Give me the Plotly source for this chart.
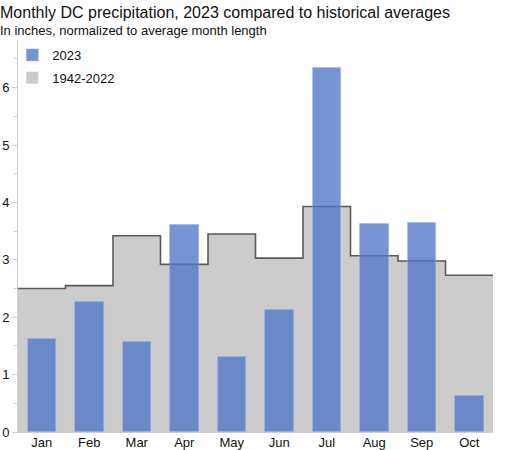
import plotly.graph_objects as go

#%% datos
meses = ['Jan', 'Feb', 'Mar', 'Apr', 'May', 'Jun', 'Jul', 'Aug', 'Sep', 'Oct']
lluvia_2023 = [1.62, 2.26, 1.57, 3.60, 1.31, 2.13, 6.34, 3.63, 3.65, 0.63]
promedio_hist = [2.50, 2.55, 3.42, 2.92, 3.45, 3.03, 3.93, 3.07, 2.98, 2.73]

pos = list(range(len(meses)))
# bordes de cada mes para la linea escalonada
bordes = [p - 0.5 for p in pos] + [pos[-1] + 0.5]
escalon = promedio_hist + [promedio_hist[-1]]

y_max = 6.83
alto_plot = 450 - 40 - 18
ancho_plot = 512 - 16 - 19
fuente = 'Liberation Sans, Arial, sans-serif'

#%% figura
fig = go.Figure()
fig.add_trace(go.Bar(
    x=pos, y=promedio_hist, width=1, name='1942-2022',
    marker=dict(color='#cccccc', line=dict(width=0)),
    legendrank=2, legendgroup='hist'
))
fig.add_trace(go.Scatter(
    x=bordes, y=escalon, mode='lines', line_shape='hv',
    line=dict(color='#5a5a5a', width=1.6), showlegend=False, hoverinfo='skip'
))
fig.add_trace(go.Bar(
    x=pos, y=lluvia_2023, width=0.6, name='2023',
    marker=dict(color='rgba(80,118,200,0.78)', line=dict(color='rgba(150,175,230,0.6)', width=0.8)),
    xaxis='x2', yaxis='y2', legendrank=1, legendgroup='2023'
))

fig.update_layout(
    width=512, height=450,
    font_family=fuente, font_color='#111111', font_size=13,
    plot_bgcolor='white', paper_bgcolor='white',
    margin=dict(l=16, r=19, t=40, b=18),
    barmode='overlay', bargap=0,
    showlegend=True,
    legend=dict(x=-0.012, y=1.0, xanchor='left', yanchor='top',
                bgcolor='rgba(0,0,0,0)', font_size=13,
                tracegroupgap=3, itemwidth=30),
    title=dict(text='Monthly DC precipitation, 2023 compared to historical averages',
               x=0.0, xanchor='left', y=1 - 12 / 450, yanchor='middle',
               font=dict(size=16, color='#111111')),
    annotations=[dict(text='In inches, normalized to average month length',
                      xref='paper', yref='paper', x=-20 / ancho_plot, y=1.0 + 9 / alto_plot,
                      xanchor='left', yanchor='middle', showarrow=False,
                      font=dict(size=13, color='#111111'))],
    xaxis=dict(range=[-0.5, len(meses) - 0.5], tickvals=pos, ticktext=meses,
               showgrid=False, zeroline=False, showline=True, linecolor='#cfcfcf',
               ticks='', automargin=False, fixedrange=True, ticklabelstandoff=-2),
    yaxis=dict(range=[0, y_max], dtick=1, showgrid=False, zeroline=False,
               showline=True, linecolor='#cfcfcf', ticks='outside', ticklen=5,
               tickcolor='#cfcfcf', automargin=False,
               minor=dict(dtick=0.5, ticks='outside', ticklen=3, tickcolor='#cfcfcf')),
    xaxis2=dict(range=[-0.5, len(meses) - 0.5], overlaying='x', visible=False),
    yaxis2=dict(range=[0, y_max], overlaying='y', visible=False),
)

# quitar el margen del body para que la figura quede en (0,0)
fig.write_html('out.html', config={'displayModeBar': False},
               post_script="document.body.style.margin='0';")
